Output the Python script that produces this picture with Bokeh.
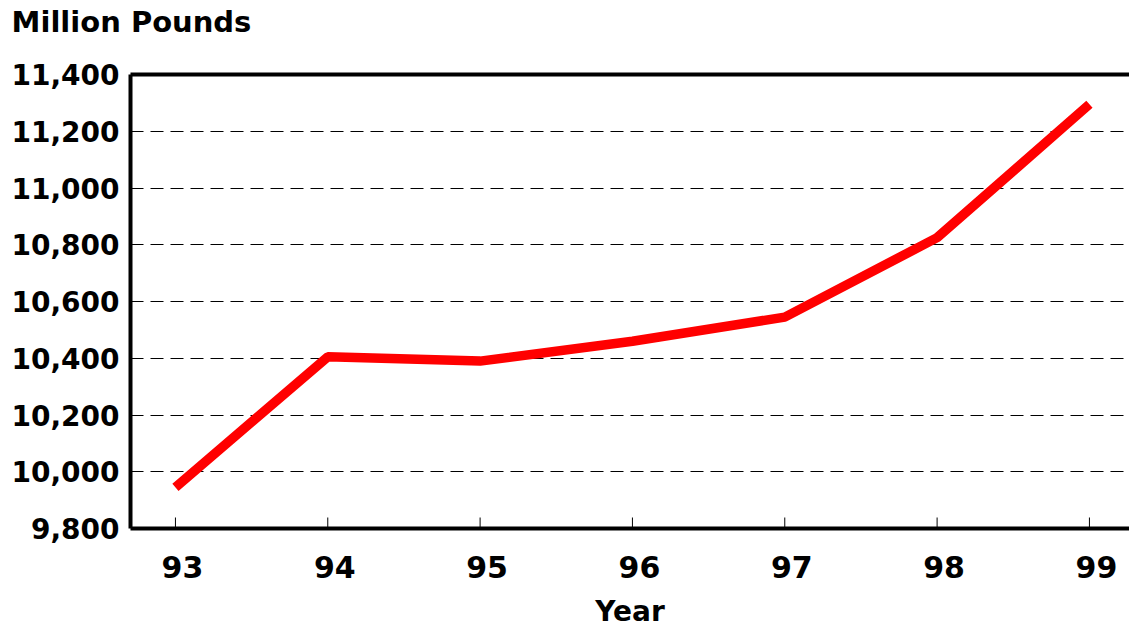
from bokeh.plotting import figure
from bokeh.models import FixedTicker, NumeralTickFormatter, LinearAxis, Range1d, CustomJSTickFormatter
from bokeh.embed import file_html
from bokeh.resources import INLINE

years = [93, 94, 95, 96, 97, 98, 99]
values = [9945, 10405, 10390, 10460, 10545, 10825, 11295]
y_ticks = [9800, 10000, 10200, 10400, 10600, 10800, 11000, 11200, 11400]
y_title = "Million Pounds"
x_title = "Year"

FONT = "DejaVu Sans"
X0, X1 = 92.705, 99.263
PX_PER_YEAR = 152.33
LABEL_SHIFT = 7 / PX_PER_YEAR

p = figure(width=1129, height=630, output_backend="svg", toolbar_location=None,
           x_range=Range1d(X0, X1), y_range=Range1d(y_ticks[0], y_ticks[-1]),
           min_border_left=130, min_border_right=0, min_border_top=74, min_border_bottom=102)
p.extra_x_ranges = {"lab": Range1d(X0 - LABEL_SHIFT, X1 - LABEL_SHIFT),
                    "top": Range1d(-1, 998)}

p.outline_line_color = None
p.background_fill_color = "white"
p.border_fill_color = "white"

p.line(years, values, line_color="#FF0000", line_width=9.5)

# inward tick marks on the bottom axis
p.ray(x=years, y=[y_ticks[0]] * len(years), length=11, length_units="screen",
      angle=90, angle_units="deg", line_color="black", line_width=1)

# x axis: line + labels (labels sit slightly right of ticks, as in the original)
xa = p.xaxis[0]
xa.x_range_name = "lab"
xa.ticker = FixedTicker(ticks=years)
xa.axis_line_width = 4
xa.axis_line_color = "black"
xa.major_tick_line_color = None
xa.minor_tick_line_color = None
xa.major_label_text_font = FONT
xa.major_label_text_font_style = "bold"
xa.major_label_text_font_size = "30px"
xa.major_label_text_color = "black"
xa.major_label_standoff = 21
xa.axis_label = x_title
xa.axis_label_text_font = FONT
xa.axis_label_text_font_style = "bold"
xa.axis_label_text_font_size = "28px"
xa.axis_label_text_color = "black"
xa.axis_label_standoff = 14

# y axis
ya = p.yaxis[0]
ya.ticker = FixedTicker(ticks=y_ticks)
ya.formatter = NumeralTickFormatter(format="0,0")
ya.axis_line_width = 4
ya.axis_line_color = "black"
ya.major_tick_in = 0
ya.major_tick_out = 0
ya.minor_tick_line_color = None
ya.major_label_text_font = FONT
ya.major_label_text_font_style = "bold"
ya.major_label_text_font_size = "28px"
ya.major_label_text_color = "black"
ya.major_label_standoff = 11

# top border line, carrying the unit title at the top-left corner
top = LinearAxis(x_range_name="top", axis_line_width=4, axis_line_color="black",
                 major_tick_line_color=None, minor_tick_line_color=None,
                 major_label_standoff=30,
                 major_label_text_font=FONT, major_label_text_font_style="bold",
                 major_label_text_font_size="29px", major_label_text_color="black",
                 ticker=FixedTicker(ticks=[0]),
                 formatter=CustomJSTickFormatter(args=dict(t=y_title), code="return t"))
p.add_layout(top, "above")

p.xgrid.grid_line_color = None
p.ygrid.ticker = FixedTicker(ticks=y_ticks)
p.ygrid.grid_line_color = "black"
p.ygrid.grid_line_width = 1
p.ygrid.grid_line_dash = "13 7"

open("out.html", "w").write(file_html(p, INLINE))
